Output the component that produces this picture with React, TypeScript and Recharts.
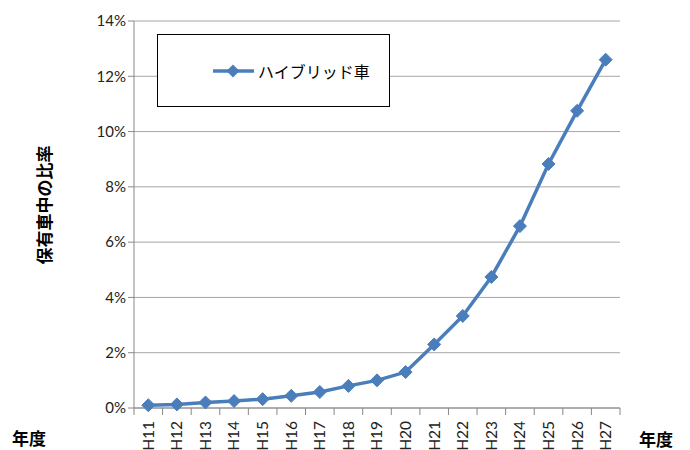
import { LineChart, Line, XAxis, YAxis, CartesianGrid } from "recharts";

const years = ["H11", "H12", "H13", "H14", "H15", "H16", "H17", "H18", "H19", "H20", "H21", "H22", "H23", "H24", "H25", "H26", "H27"];
const hybridShare = [0.1, 0.13, 0.2, 0.25, 0.32, 0.44, 0.58, 0.8, 1.0, 1.3, 2.3, 3.33, 4.74, 6.58, 8.83, 10.75, 12.6];
const yTicks = [0, 2, 4, 6, 8, 10, 12, 14];

const seriesName = "ハイブリッド車";
const yLabel = "保有車中の比率";
const xLabel = "年度";

const data = years.map((y, i) => ({ year: y, value: hybridShare[i] }));

const BLUE = "#4a7ebb";
const FONT = "Lato, 'Noto Sans', sans-serif";
const JP_FONT = "'Noto Sans CJK JP', sans-serif";
const HALF_BAND = 14.3;

const Diamond = (props: any) => {
  const { cx, cy, index } = props;
  if (cx == null || cy == null) return null;
  const r = 6.5;
  return (
    <polygon
      key={`d-${index}`}
      points={`${cx},${cy - r} ${cx + r},${cy} ${cx},${cy + r} ${cx - r},${cy}`}
      fill={BLUE}
      stroke={BLUE}
    />
  );
};

// excel-style: tick marks sit between categories, labels read bottom-to-top
const XTick = (props: any) => {
  const { x, y, payload, index } = props;
  const last = index === years.length - 1;
  return (
    <g>
      <line x1={x - HALF_BAND} x2={x - HALF_BAND} y1={y - 8} y2={y - 1} stroke="#888" />
      {last && <line x1={x + HALF_BAND} x2={x + HALF_BAND} y1={y - 8} y2={y - 1} stroke="#888" />}
      <text
        x={x}
        y={y + 5}
        transform={`rotate(-90, ${x}, ${y + 5})`}
        textAnchor="end"
        dy="0.35em"
        fontSize={15.5}
        fontFamily={FONT}
        fill="#222"
      >
        {payload.value}
      </text>
    </g>
  );
};

const YLabel = () => (
  <text
    x={45}
    y={205}
    transform="rotate(-90, 45, 205)"
    textAnchor="middle"
    dy="0.35em"
    fontSize={17}
    fontWeight={700}
    fontFamily={JP_FONT}
    fill="#000"
  >
    {yLabel}
  </text>
);

export default function App() {
  return (
    <div style={{ position: "absolute", left: 0, top: 0, width: 690, height: 450, background: "#fff", overflow: "hidden" }}>
      <LineChart width={690} height={450} data={data} margin={{ top: 21, right: 70, left: 74, bottom: 0 }}>
        <CartesianGrid horizontal vertical={false} stroke="#a6a6a6" />
        <XAxis
          dataKey="year"
          padding={{ left: HALF_BAND, right: HALF_BAND }}
          axisLine={{ stroke: "#888" }}
          tickLine={false}
          interval={0}
          height={42}
          tick={<XTick />}
        />
        <YAxis
          width={60}
          domain={[0, 14]}
          ticks={yTicks}
          tickFormatter={(v: number) => `${v}%`}
          axisLine={{ stroke: "#888" }}
          tickLine={{ stroke: "#888" }}
          tickSize={6}
          tick={{ fontSize: 15, fontFamily: FONT, fill: "#222" }}
          label={<YLabel />}
        />
        <Line
          name={seriesName}
          dataKey="value"
          stroke={BLUE}
          strokeWidth={3.5}
          dot={Diamond}
          activeDot={false}
          isAnimationActive={false}
        />
      </LineChart>
      {/* legend box */}
      <div
        style={{
          position: "absolute",
          left: 157,
          top: 34,
          width: 233,
          height: 73,
          border: "1.5px solid #000",
          background: "#fff",
          display: "flex",
          alignItems: "center",
          boxSizing: "border-box",
        }}
      >
        <svg width={46} height={16} style={{ marginLeft: 54 }}>
          <line x1={1} x2={42} y1={8} y2={8} stroke={BLUE} strokeWidth={3.5} />
          <polygon points="21,1.5 27.5,8 21,14.5 14.5,8" fill={BLUE} />
        </svg>
        <span style={{ fontFamily: JP_FONT, fontSize: 16, color: "#000" }}>{seriesName}</span>
      </div>
      <div style={{ position: "absolute", left: 12, top: 429, fontFamily: JP_FONT, fontWeight: 700, fontSize: 17, lineHeight: "18px" }}>
        {xLabel}
      </div>
      <div style={{ position: "absolute", left: 639, top: 430, fontFamily: JP_FONT, fontWeight: 700, fontSize: 17, lineHeight: "18px" }}>
        {xLabel}
      </div>
    </div>
  );
}
